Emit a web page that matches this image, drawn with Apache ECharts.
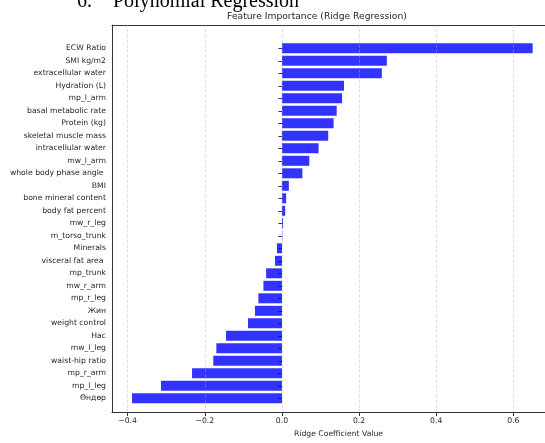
<!DOCTYPE html>
<html>
<head>
<meta charset="utf-8">
<script src="https://cdn.jsdelivr.net/npm/echarts@6/dist/echarts.min.js"></script>
<style>
html,body{margin:0;padding:0;background:#fff;}
#chart{width:545px;height:443px;}
</style>
</head>
<body>
<div id="chart"></div>
<script>
const categories = [
  'ECW Ratio','SMI kg/m2','extracellular water','Hydration (L)','mp_l_arm',
  'basal metabolic rate','Protein (kg)','skeletal muscle mass','intracellular water','mw_l_arm',
  'whole body phase angle ','BMI','bone mineral content','body fat percent','mw_r_leg',
  'm_torso_trunk','Minerals','visceral fat area ','mp_trunk','mw_r_arm',
  'mp_r_leg','Жин','weight control','Нас','mw_l_leg',
  'waist-hip ratio','mp_r_arm','mp_l_leg','Өндөр'
];
const coefficients = [
  0.650, 0.272, 0.259, 0.161, 0.156,
  0.142, 0.134, 0.120, 0.095, 0.071,
  0.053, 0.018, 0.011, 0.0085, 0.003,
  0.001, -0.013, -0.018, -0.041, -0.048,
  -0.061, -0.070, -0.088, -0.145, -0.170,
  -0.178, -0.233, -0.3135, -0.3886
];
const xTicks = [-0.4, -0.2, 0.0, 0.2, 0.4, 0.6];
const xMin = -0.4405;
const xMax = 0.682;

const txt = '#262626';
const fontFam = '"DejaVu Sans", sans-serif';
const chart = echarts.init(document.getElementById('chart'), null, {renderer: 'canvas'});
const fmt = v => (v < 0 ? '\u2212' : '') + Math.abs(v).toFixed(1);

chart.setOption({
  animation: false,
  backgroundColor: '#fff',
  graphic: [
    {type: 'text', style: {text: '6.', x: 77, y: 2, verticalAlign: 'middle', font: '20px "Liberation Serif", serif', fill: '#000'}},
    {type: 'text', style: {text: 'Polynomial Regression', x: 113, y: 2, verticalAlign: 'middle', font: '20px "Liberation Serif", serif', fill: '#000'}},
    {type: 'text', style: {text: 'Feature Importance (Ridge Regression)', x: 317, y: 17, align: 'center', verticalAlign: 'middle', font: '9.2px ' + fontFam, fill: txt}}
  ],
  grid: [
    {left: 112, top: 25, right: 0, height: 396.5},
    {left: 112, top: 42.05, right: 0, height: 362.5}
  ],
  xAxis: [
    {
      gridIndex: 0, type: 'value', min: xMin, max: xMax, position: 'bottom',
      axisLine: {show: true, onZero: false, lineStyle: {color: '#333', width: 1}},
      axisTick: {show: true, length: 3.5, customValues: xTicks, lineStyle: {color: '#333'}},
      axisLabel: {show: true, customValues: xTicks, formatter: fmt, fontSize: 7.7, fontFamily: fontFam, color: txt, margin: 4.5},
      splitLine: {show: false},
      name: 'Ridge Coefficient Value', nameLocation: 'middle', nameGap: 14,
      nameTextStyle: {fontSize: 7.7, fontFamily: fontFam, color: txt, padding: [0, 0, 0, 20]}
    },
    {
      gridIndex: 0, type: 'value', min: xMin, max: xMax, position: 'top',
      axisLine: {show: true, onZero: false, lineStyle: {color: '#333', width: 1}},
      axisTick: {show: false}, axisLabel: {show: false}, splitLine: {show: false}
    },
    {
      gridIndex: 1, type: 'value', min: xMin, max: xMax, show: false,
      splitLine: {show: false}
    }
  ],
  yAxis: [
    {
      gridIndex: 0, type: 'value', min: 0, max: 1,
      axisLine: {show: true, onZero: false, lineStyle: {color: '#333', width: 1}},
      axisTick: {show: false}, axisLabel: {show: false}, splitLine: {show: false}
    },
    {
      gridIndex: 1, type: 'category', data: categories, inverse: true,
      axisLine: {show: false},
      axisTick: {show: true, length: 3.5, alignWithLabel: true, lineStyle: {color: '#333'}},
      axisLabel: {fontSize: 7.7, fontFamily: fontFam, color: txt, margin: 6, interval: 0},
      splitLine: {show: false}
    }
  ],
  series: [
    {
      type: 'bar', xAxisIndex: 2, yAxisIndex: 1, data: coefficients,
      barWidth: '80%', itemStyle: {color: 'rgba(0,0,255,0.8)'}, z: 2
    },
    {
      type: 'line', xAxisIndex: 0, yAxisIndex: 0, data: [], z: 5,
      markLine: {
        silent: true, symbol: ['none', 'none'], label: {show: false},
        lineStyle: {color: 'rgba(176,176,176,0.55)', type: [3, 2], width: 0.8},
        data: xTicks.map(v => ({xAxis: v}))
      }
    }
  ]
});
</script>
</body>
</html>
